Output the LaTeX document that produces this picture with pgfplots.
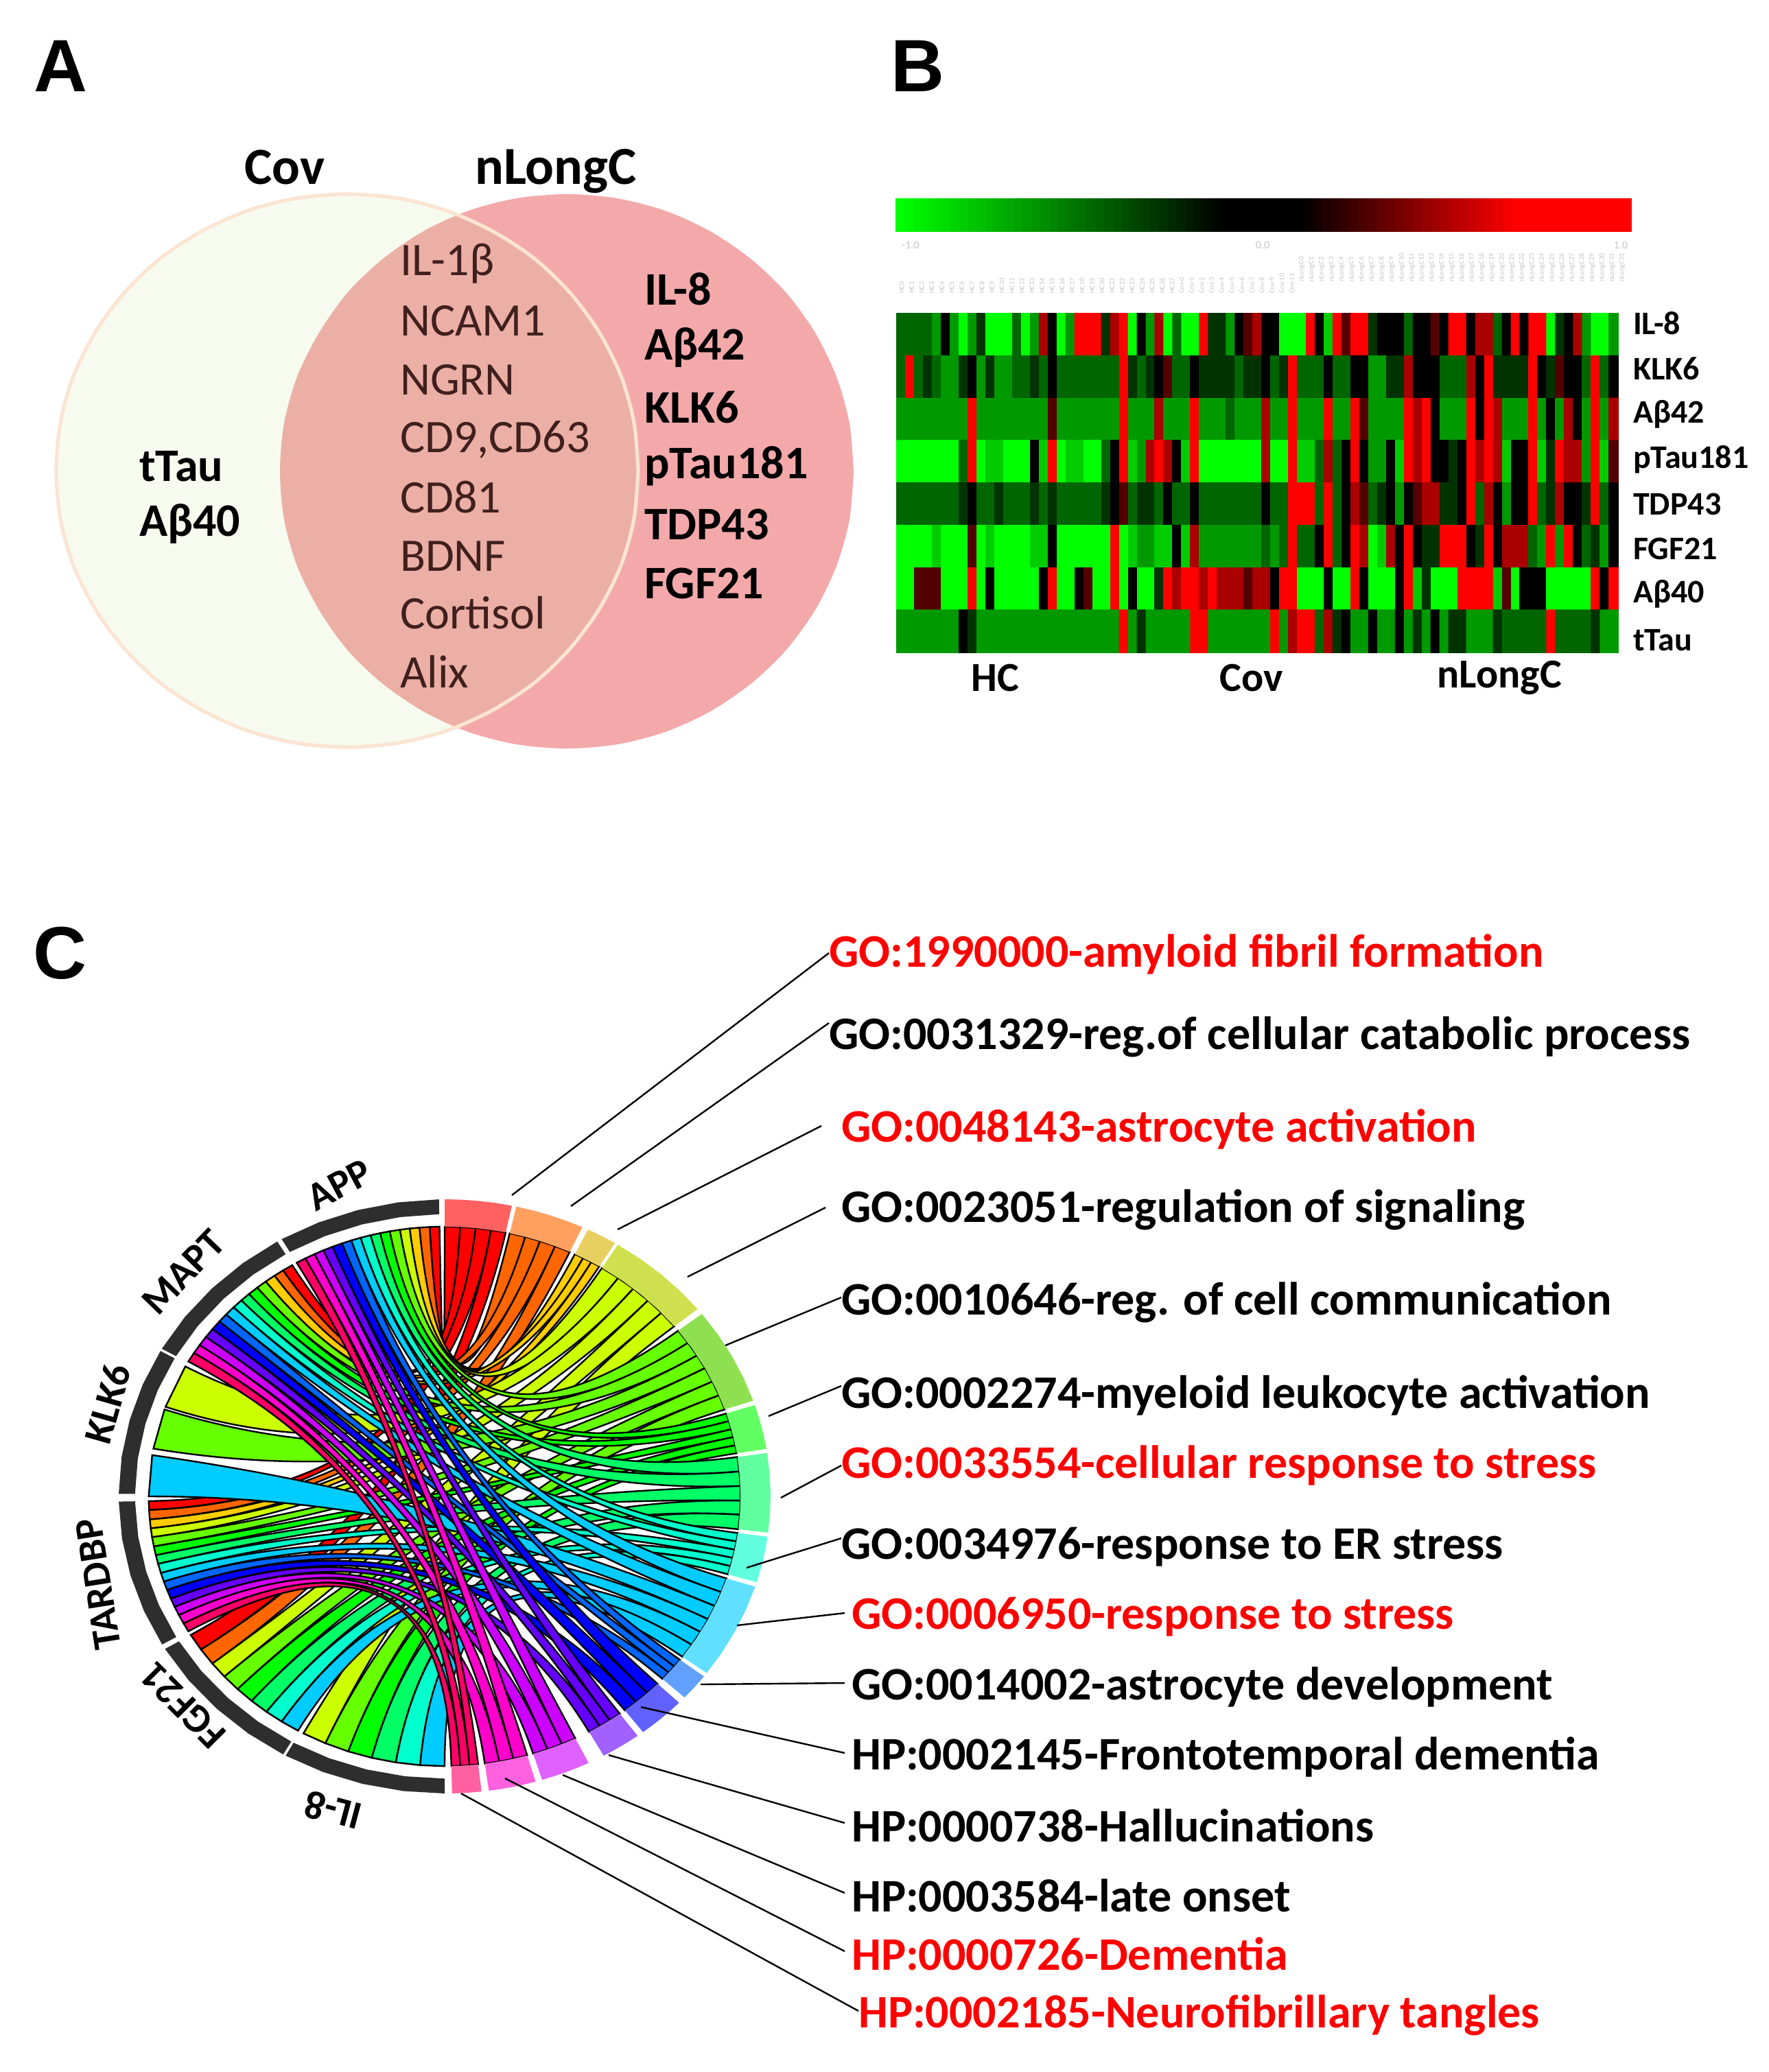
\documentclass[border=0pt]{standalone}
\usepackage{fontspec}
\setmainfont{Carlito}
\newfontfamily\heavy{Liberation Sans}
\usepackage{pgfplots}
\usepackage{pgfplotstable}
\pgfplotsset{compat=1.18}

\definecolor{c1}{HTML}{FF0000}\definecolor{c2}{HTML}{FF6600}\definecolor{c3}{HTML}{FFCC00}
\definecolor{c4}{HTML}{CCFF00}\definecolor{c5}{HTML}{66FF00}\definecolor{c6}{HTML}{00FF00}
\definecolor{c7}{HTML}{00FF66}\definecolor{c8}{HTML}{00FFCC}\definecolor{c9}{HTML}{00CCFF}
\definecolor{c10}{HTML}{0066FF}\definecolor{c11}{HTML}{0000FF}\definecolor{c12}{HTML}{6600FF}
\definecolor{c13}{HTML}{CC00FF}\definecolor{c14}{HTML}{FF00CC}\definecolor{c15}{HTML}{FF0066}
\definecolor{b3}{HTML}{E8D060}\definecolor{b4}{HTML}{CFE04F}\definecolor{b5}{HTML}{8FE050}
\definecolor{ring}{HTML}{2E2E2E}
\definecolor{maroon}{HTML}{40201E}

% venn outlines, picture pixels
\pgfplotstableread{
x y
930 686
924 616
905 548
873 484
831 427
779 377
718 337
651 307
580 289
506 283
432 289
361 307
294 337
233 377
181 427
139 484
107 548
88 616
82 686
88 756
107 824
139 888
181 945
233 995
294 1035
361 1065
432 1083
506 1089
580 1083
651 1065
718 1035
779 995
831 945
873 888
905 824
924 756
930 686
}\leftcircle
\pgfplotstableread{
x y
1244 687
1238 617
1219 549
1188 485
1146 427
1095 378
1035 337
969 307
899 289
826 283
753 289
683 307
617 337
557 378
506 427
465 485
433 549
414 617
408 687
414 757
433 825
465 889
506 947
557 996
617 1037
683 1067
753 1085
826 1091
899 1085
969 1067
1035 1037
1095 996
1146 947
1188 889
1219 825
1238 757
1244 687
}\rightcircle

% heatmap: 8 rows of 81 columns, level 0 (green) to 5 (black) to 8 (red)
\pgfplotstableread[row sep=\\]{v\\
3\\3\\3\\3\\2\\5\\2\\0\\2\\4\\0\\0\\0\\3\\0\\2\\7\\5\\0\\2\\8\\8\\8\\4\\7\\8\\0\\5\\2\\7\\0\\3\\0\\0\\8\\4\\4\\2\\5\\6\\7\\5\\5\\0\\0\\0\\8\\5\\1\\8\\6\\8\\8\\4\\5\\5\\5\\3\\5\\5\\6\\5\\8\\8\\5\\7\\7\\3\\5\\8\\5\\8\\8\\0\\4\\5\\7\\2\\0\\0\\2\\
3\\8\\3\\4\\3\\2\\2\\4\\5\\2\\4\\2\\2\\3\\3\\4\\3\\5\\3\\3\\3\\3\\3\\3\\3\\8\\4\\3\\4\\5\\6\\3\\3\\5\\4\\4\\4\\4\\3\\4\\4\\5\\3\\4\\8\\3\\3\\3\\5\\3\\3\\5\\5\\2\\2\\4\\4\\7\\5\\5\\5\\3\\3\\3\\7\\5\\8\\4\\4\\4\\4\\8\\5\\4\\6\\5\\5\\3\\8\\3\\5\\
2\\2\\2\\2\\2\\2\\2\\2\\8\\2\\2\\2\\2\\2\\2\\2\\2\\6\\2\\2\\2\\2\\2\\2\\2\\8\\2\\2\\2\\7\\2\\2\\2\\8\\2\\2\\2\\3\\2\\2\\2\\7\\2\\2\\8\\2\\2\\2\\8\\2\\2\\8\\6\\2\\2\\2\\2\\8\\7\\8\\5\\2\\2\\2\\8\\5\\8\\7\\2\\2\\2\\8\\2\\5\\2\\7\\5\\2\\8\\2\\7\\
0\\0\\0\\0\\0\\0\\0\\3\\8\\0\\1\\1\\0\\0\\0\\5\\1\\8\\0\\1\\1\\0\\0\\3\\5\\8\\1\\2\\7\\8\\7\\5\\1\\8\\0\\0\\0\\0\\0\\0\\0\\7\\0\\0\\8\\1\\1\\3\\7\\3\\5\\8\\5\\2\\2\\5\\1\\8\\7\\8\\5\\5\\4\\5\\8\\7\\8\\7\\1\\5\\5\\8\\1\\4\\8\\7\\7\\2\\8\\1\\6\\
3\\3\\3\\3\\3\\3\\3\\4\\5\\3\\3\\4\\3\\3\\3\\4\\3\\4\\3\\3\\3\\3\\3\\4\\5\\6\\3\\4\\4\\3\\5\\3\\3\\5\\3\\3\\3\\3\\3\\3\\3\\5\\3\\3\\8\\8\\8\\3\\8\\3\\5\\7\\6\\3\\4\\5\\2\\5\\6\\7\\7\\4\\4\\5\\8\\3\\7\\5\\2\\5\\5\\8\\3\\4\\7\\5\\5\\4\\8\\3\\5\\
0\\0\\0\\0\\1\\0\\0\\0\\6\\0\\1\\0\\0\\0\\0\\1\\1\\5\\0\\0\\0\\0\\0\\0\\8\\0\\1\\2\\2\\1\\1\\5\\1\\7\\2\\2\\2\\2\\2\\2\\2\\3\\2\\3\\8\\3\\3\\5\\8\\3\\5\\8\\7\\0\\1\\7\\5\\8\\5\\4\\4\\8\\8\\8\\5\\4\\8\\5\\7\\7\\7\\3\\2\\8\\2\\8\\5\\3\\4\\2\\5\\
0\\0\\6\\6\\6\\0\\0\\0\\8\\0\\5\\0\\0\\0\\0\\0\\5\\8\\0\\0\\5\\6\\0\\0\\8\\0\\5\\0\\0\\4\\8\\7\\8\\8\\7\\8\\7\\7\\7\\6\\7\\7\\5\\8\\8\\0\\0\\0\\5\\0\\0\\8\\5\\0\\0\\0\\5\\8\\1\\4\\0\\0\\0\\8\\8\\8\\8\\1\\6\\0\\5\\5\\5\\0\\0\\0\\0\\0\\8\\5\\8\\
2\\2\\2\\2\\2\\2\\2\\5\\4\\2\\2\\2\\2\\2\\2\\2\\2\\2\\2\\2\\2\\2\\2\\2\\2\\8\\2\\4\\2\\2\\2\\2\\2\\8\\8\\2\\2\\2\\2\\2\\2\\2\\8\\2\\7\\8\\8\\3\\7\\4\\5\\2\\2\\5\\2\\2\\5\\2\\4\\2\\5\\2\\4\\4\\2\\2\\2\\4\\3\\3\\3\\3\\3\\8\\3\\3\\3\\3\\4\\2\\2\\
}\heatdata

% colour key: 81 steps, two rows
\pgfplotstableread[row sep=\\]{v\\
0\\.14\\.28\\.42\\.56\\.7\\.84\\.98\\1.12\\1.26\\1.4\\1.54\\1.68\\1.82\\1.96\\2.1\\2.24\\2.38\\2.52\\2.66\\2.8\\2.94\\3.08\\3.22\\3.36\\3.5\\3.64\\3.78\\3.92\\4.06\\4.2\\4.34\\4.48\\4.62\\4.76\\4.9\\5\\5\\5\\5\\5\\5\\5\\5\\5\\5.125\\5.25\\5.375\\5.5\\5.625\\5.75\\5.875\\6\\6.125\\6.25\\6.375\\6.5\\6.625\\6.75\\6.875\\7\\7.125\\7.25\\7.375\\7.5\\7.625\\7.75\\7.875\\8\\8\\8\\8\\8\\8\\8\\8\\8\\8\\8\\8\\8\\
0\\.14\\.28\\.42\\.56\\.7\\.84\\.98\\1.12\\1.26\\1.4\\1.54\\1.68\\1.82\\1.96\\2.1\\2.24\\2.38\\2.52\\2.66\\2.8\\2.94\\3.08\\3.22\\3.36\\3.5\\3.64\\3.78\\3.92\\4.06\\4.2\\4.34\\4.48\\4.62\\4.76\\4.9\\5\\5\\5\\5\\5\\5\\5\\5\\5\\5.125\\5.25\\5.375\\5.5\\5.625\\5.75\\5.875\\6\\6.125\\6.25\\6.375\\6.5\\6.625\\6.75\\6.875\\7\\7.125\\7.25\\7.375\\7.5\\7.625\\7.75\\7.875\\8\\8\\8\\8\\8\\8\\8\\8\\8\\8\\8\\8\\8\\
}\keydata

% chord diagram: point at angle #1, radius #2 (outer ring = 1)
\newcommand\PT[2]{(axis cs:{648+475*(#2)*cos(#1)},{2181-433*(#2)*sin(#1)})}
% ring sector: colour, angle from, angle to, inner radius
\newcommand\band[4]{\fill[#1]
  \PT{#2}{1} -- \PT{.75*#2+.25*#3}{1} -- \PT{.5*#2+.5*#3}{1} -- \PT{.25*#2+.75*#3}{1} -- \PT{#3}{1}
  -- \PT{#3}{#4} -- \PT{.25*#2+.75*#3}{#4} -- \PT{.5*#2+.5*#3}{#4} -- \PT{.75*#2+.25*#3}{#4} -- \PT{#2}{#4} -- cycle;}
% ribbon: colour, gene from, gene to, term from, term to
\newcommand\ribbon[5]{\filldraw[fill=#1,draw=black,line width=.6pt]
  \PT{#2}{.908} .. controls \PT{#2}{.303} and \PT{#4}{.303} .. \PT{#4}{.908}
  -- \PT{#5}{.908} .. controls \PT{#5}{.303} and \PT{#3}{.303} .. \PT{#3}{.908} -- cycle;}

\begin{document}
\begin{tikzpicture}
\begin{axis}[
    scale only axis, width=644.5pt, height=755pt,
    xmin=0, xmax=2578, ymin=0, ymax=3020, y dir=reverse,
    hide axis,
    colormap={gbr}{rgb255(0)=(0,255,0) rgb255(5)=(0,0,0) rgb255(8)=(255,0,0)},
    point meta min=0, point meta max=8,
    every node/.style={inner sep=0pt, outer sep=0pt},
]
% page background, keeps the picture at the full size
\addplot[fill=white, draw=none] coordinates {(0,0) (2578,0) (2578,3020) (0,3020) (0,0)};
% --- A: venn
\addplot[smooth, fill=white, draw=none] table {\leftcircle};
\addplot[smooth, fill={rgb,255:red,243;green,169;blue,170}, draw=none] table {\rightcircle};
\addplot[smooth, fill={rgb,255:red,190;green,222;blue,130}, fill opacity=.12, draw=none] table {\leftcircle};
\addplot[smooth, draw={rgb,255:red,251;green,228;blue,210}, line width=1.3pt] table {\leftcircle};

\node[font=\heavy\bfseries\fontsize{27}{27}\selectfont] at (axis cs:88,96) {A};
\node[font=\heavy\bfseries\fontsize{27}{27}\selectfont] at (axis cs:1337,96) {B};
\node[font=\heavy\bfseries\fontsize{27}{27}\selectfont] at (axis cs:87,1389) {C};
\node[font=\fontsize{19}{19}\selectfont\bfseries, anchor=base] at (axis cs:415,268) {Cov};
\node[font=\fontsize{19.5}{19}\selectfont\bfseries, anchor=base] at (axis cs:810,268) {nLongC};
\begin{scope}[every node/.append style={anchor=west, text=maroon, font=\fontsize{17}{17}\selectfont}]
\node at (axis cs:569,384) {IL-1β};
\node at (axis cs:569,468) {NCAM1};
\node at (axis cs:569,554) {NGRN};
\node at (axis cs:569,641) {CD9,CD63};
\node at (axis cs:569,725) {CD81};
\node at (axis cs:569,811) {BDNF};
\node at (axis cs:569,893) {Cortisol};
\node at (axis cs:569,979) {Alix};
\end{scope}
\begin{scope}[every node/.append style={anchor=west, font=\fontsize{17}{17}\selectfont\bfseries}]
\node at (axis cs:925,421) {IL-8};
\node at (axis cs:925,507) {Aβ42};
\node at (axis cs:925,594) {KLK6};
\node at (axis cs:925,679) {pTau181};
\node at (axis cs:925,764) {TDP43};
\node at (axis cs:925,850) {FGF21};
\node at (axis cs:189,680) {tTau};
\node at (axis cs:189,764) {Aβ40};
\end{scope}

% --- B: heatmap
\addplot[matrix plot*, mesh/cols=81, point meta=\thisrow{v}] table[x index=0, y index=0,
    x expr={1306+13.222*(mod(\coordindex,81)+.5)},
    y expr={290+23.5*(floor((\coordindex+.5)/81)+.5)}] {\keydata};
\addplot[matrix plot*, mesh/cols=81, point meta=\thisrow{v}] table[x index=0, y index=0,
    x expr={1307+12.975*(mod(\coordindex,81)+.5)},
    y expr={457+61.75*(floor((\coordindex+.5)/81)+.5)}] {\heatdata};
\begin{scope}[every node/.append style={text=gray!45, font=\fontsize{4}{4}\selectfont}]
\node at (axis cs:1327,357) {-1.0};
\node at (axis cs:1840,357) {0.0};
\node at (axis cs:2362,357) {1.0};
\end{scope}
\begin{scope}[every node/.append style={text=gray!45, font=\fontsize{2.6}{3}\selectfont, rotate=90, anchor=west}]
\pgfplotsinvokeforeach{0,...,27}{\node at (axis cs:{1314+14.6*#1},442) {HC#1};}
\pgfplotsinvokeforeach{0,...,11}{\node at (axis cs:{1722+14.6*#1},442) {Cov-#1};}
\pgfplotsinvokeforeach{0,...,32}{\node at (axis cs:{1897+14.6*#1},425) {nLongC#1};}
\end{scope}
\begin{scope}[every node/.append style={anchor=west, font=\fontsize{12}{12}\selectfont\bfseries}]
\node at (axis cs:2366,471) {IL-8};
\node at (axis cs:2366,537) {KLK6};
\node at (axis cs:2366,604) {Aβ42};
\node at (axis cs:2366,670) {pTau181};
\node at (axis cs:2366,735) {TDP43};
\node at (axis cs:2366,800) {FGF21};
\node at (axis cs:2366,866) {Aβ40};
\node at (axis cs:2366,933) {tTau};
\end{scope}
\begin{scope}[every node/.append style={font=\fontsize{15}{15}\selectfont\bfseries}]
\node at (axis cs:1450,988) {HC};
\node at (axis cs:1824,988) {Cov};
\node at (axis cs:2185,988) {nLongC};
\end{scope}

% --- C: term ribbons, one block per term; each line gene from/to, term from/to
\ribbon{c1}{91}{92.9}{90}{87}
\ribbon{c1}{121}{123.1}{87}{84}
\ribbon{c1}{181}{182.9}{84}{81}
\ribbon{c1}{210.9}{214.6}{81}{78.1}

\ribbon{c2}{92.9}{94.9}{77.3}{74.2}
\ribbon{c2}{123.1}{125.1}{74.2}{71.2}
\ribbon{c2}{182.9}{184.9}{71.2}{68.1}
\ribbon{c2}{214.6}{218.3}{68.1}{65}

\ribbon{c3}{94.9}{96.8}{63.9}{62.1}
\ribbon{c3}{125.1}{127.2}{62.1}{60.3}
\ribbon{c3}{184.9}{186.8}{60.3}{58.5}

\ribbon{c4}{96.8}{98.7}{57.9}{54.1}
\ribbon{c4}{151.2}{160.6}{54.1}{50.4}
\ribbon{c4}{186.8}{188.7}{50.4}{46.6}
\ribbon{c4}{218.3}{221.9}{46.6}{42.9}
\ribbon{c4}{241.5}{246.25}{42.9}{39.1}

\ribbon{c5}{98.7}{100.7}{37.9}{34.7}
\ribbon{c5}{127.2}{129.3}{34.7}{31.5}
\ribbon{c5}{161.2}{169.8}{31.5}{28.4}
\ribbon{c5}{188.7}{190.7}{28.4}{25.2}
\ribbon{c5}{221.9}{225.6}{25.2}{22}
\ribbon{c5}{246.25}{251}{22}{18.8}

\ribbon{c6}{100.7}{102.6}{17.9}{16.2}
\ribbon{c6}{129.3}{131.4}{16.2}{14.4}
\ribbon{c6}{190.7}{192.6}{14.4}{12.7}
\ribbon{c6}{225.6}{229.3}{12.7}{10.9}
\ribbon{c6}{251}{255.75}{10.9}{9.2}

\ribbon{c7}{102.6}{104.5}{8.4}{5.3}
\ribbon{c7}{131.4}{133.4}{5.3}{2.2}
\ribbon{c7}{192.6}{194.5}{2.2}{-.9}
\ribbon{c7}{229.3}{233}{-.9}{-3.9}
\ribbon{c7}{255.75}{260.5}{-3.9}{-7}

\ribbon{c8}{104.5}{106.5}{-7.8}{-9.6}
\ribbon{c8}{133.4}{135.5}{-9.6}{-11.4}
\ribbon{c8}{194.5}{196.5}{-11.4}{-13.2}
\ribbon{c8}{233}{236.6}{-13.2}{-15}
\ribbon{c8}{260.5}{265.25}{-15}{-16.8}

\ribbon{c9}{106.5}{108.4}{-17.7}{-20.8}
\ribbon{c9}{135.5}{137.6}{-20.8}{-24}
\ribbon{c9}{171.2}{180}{-24}{-27.1}
\ribbon{c9}{196.5}{198.4}{-27.1}{-30.2}
\ribbon{c9}{236.6}{240.3}{-30.2}{-33.4}
\ribbon{c9}{265.25}{270}{-33.4}{-36.5}

\ribbon{c10}{108.4}{110.3}{-37.3}{-39.1}
\ribbon{c10}{137.6}{139.6}{-39.1}{-40.8}
\ribbon{c10}{198.4}{200.3}{-40.8}{-42.6}

\ribbon{c11}{110.3}{112.3}{-44}{-46.8}
\ribbon{c11}{139.6}{141.7}{-46.8}{-49.7}
\ribbon{c11}{200.3}{202.3}{-49.7}{-52.5}

\ribbon{c12}{112.3}{114.2}{-53.7}{-56.1}
\ribbon{c12}{141.7}{143.8}{-56.1}{-58.4}
\ribbon{c12}{202.3}{204.2}{-58.4}{-60.8}

\ribbon{c13}{114.2}{116.1}{-63.8}{-66.7}
\ribbon{c13}{143.8}{145.9}{-66.7}{-69.7}
\ribbon{c13}{204.2}{206.1}{-69.7}{-72.6}

\ribbon{c14}{116.1}{118.1}{-73.8}{-76.6}
\ribbon{c14}{145.9}{147.9}{-76.6}{-79.4}
\ribbon{c14}{206.1}{208.1}{-79.4}{-82.2}

\ribbon{c15}{118.1}{120}{-83.5}{-85.2}
\ribbon{c15}{147.9}{150}{-85.2}{-87}
\ribbon{c15}{208.1}{210}{-87}{-88.7}

% term bands
\band{c1!62!white}{90}{78.1}{.908}
\band{c2!62!white}{77.3}{65}{.908}
\band{b3}{63.9}{58.5}{.908}
\band{b4}{57.9}{39.1}{.908}
\band{b5}{37.9}{18.8}{.908}
\band{c6!62!white}{17.9}{9.2}{.908}
\band{c7!62!white}{8.4}{-7}{.908}
\band{c8!62!white}{-7.8}{-16.8}{.908}
\band{c9!62!white}{-17.7}{-36.5}{.908}
\band{c10!62!white}{-37.3}{-42.6}{.908}
\band{c11!62!white}{-44}{-52.5}{.908}
\band{c12!62!white}{-53.7}{-60.8}{.908}
\band{c13!62!white}{-63.8}{-72.6}{.908}
\band{c14!62!white}{-73.8}{-82.2}{.908}
\band{c15!62!white}{-83.5}{-88.7}{.908}
% gene ring
\band{ring}{91}{120}{.95}
\band{ring}{120.9}{150.2}{.95}
\band{ring}{150.7}{179.5}{.95}
\band{ring}{181}{209.9}{.95}
\band{ring}{210.9}{240.3}{.95}
\band{ring}{240.8}{270}{.95}

\begin{scope}[every node/.append style={font=\fontsize{14.5}{14.5}\selectfont\bfseries}]
\node[rotate=28] at (axis cs:494,1727) {APP};
\node[rotate=46] at (axis cs:267,1854) {MAPT};
\node[rotate=74] at (axis cs:157,2046) {KLK6};
\node[rotate=99] at (axis cs:143,2309) {TARDBP};
\node[rotate=135] at (axis cs:267,2486) {FGF21};
\node[rotate=165] at (axis cs:485,2639) {IL-8};
\end{scope}

% leader lines
\pgfplotsset{leader/.style={black, line width=.6pt}}
\addplot[leader] coordinates {(746,1742) (1208,1389)};
\addplot[leader] coordinates {(832,1758) (1208,1491)};
\addplot[leader] coordinates {(900,1792) (1197,1641)};
\addplot[leader] coordinates {(1002,1861) (1203,1760)};
\addplot[leader] coordinates {(1057,1961) (1226,1891)};
\addplot[leader] coordinates {(1120,2064) (1226,2020)};
\addplot[leader] coordinates {(1138,2183) (1226,2136)};
\addplot[leader] coordinates {(1088,2285) (1226,2242)};
\addplot[leader] coordinates {(1074,2369) (1231,2351)};
\addplot[leader] coordinates {(1021,2455) (1231,2453)};
\addplot[leader] coordinates {(934,2488) (1231,2555)};
\addplot[leader] coordinates {(887,2558) (1231,2657)};
\addplot[leader] coordinates {(820,2587) (1231,2759)};
\addplot[leader] coordinates {(736,2592) (1231,2844)};
\addplot[leader] coordinates {(672,2614) (1251,2931)};

\begin{scope}[every node/.append style={anchor=west, font=\fontsize{17}{17}\selectfont\bfseries}]
\node[text=red] at (axis cs:1194,1391) {GO:1990000-amyloid fibril formation};
\node at (axis cs:1194,1511) {GO:0031329-reg.of cellular catabolic process};
\node[text=red] at (axis cs:1212,1646) {GO:0048143-astrocyte activation};
\node at (axis cs:1212,1763) {GO:0023051-regulation of signaling};
\node at (axis cs:1212,1898) {GO:0010646-reg. of cell communication};
\node at (axis cs:1212,2034) {GO:0002274-myeloid leukocyte activation};
\node[text=red] at (axis cs:1212,2136) {GO:0033554-cellular response to stress};
\node at (axis cs:1212,2255) {GO:0034976-response to ER stress};
\node[text=red] at (axis cs:1227,2357) {GO:0006950-response to stress};
\node at (axis cs:1227,2459) {GO:0014002-astrocyte development};
\node at (axis cs:1227,2561) {HP:0002145-Frontotemporal dementia};
\node at (axis cs:1227,2661) {HP:0000738-Hallucinations};
\node at (axis cs:1227,2763) {HP:0003584-late onset};
\node[text=red] at (axis cs:1227,2848) {HP:0000726-Dementia};
\node[text=red] at (axis cs:1237,2937) {HP:0002185-Neurofibrillary tangles};
\end{scope}
\end{axis}
\end{tikzpicture}
\end{document}
